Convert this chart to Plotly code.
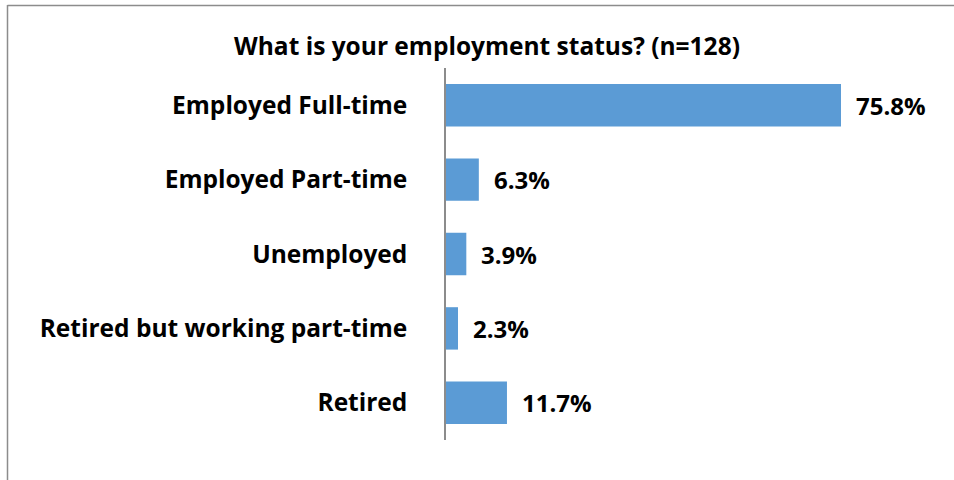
import plotly.graph_objects as go

categories = [
    "Employed Full-time",
    "Employed Part-time",
    "Unemployed",
    "Retired but working part-time",
    "Retired",
]
percentages = [75.8, 6.3, 3.9, 2.3, 11.7]
value_labels = ["75.8%", "6.3%", "3.9%", "2.3%", "11.7%"]

W, H = 954, 480
L, R, T, B = 446, 39, 68, 40
FONT = "Open Sans, sans-serif"
FS = 24.5

fig = go.Figure(
    go.Bar(
        x=percentages,
        y=categories,
        orientation="h",
        marker=dict(color="#5B9BD5", line=dict(width=0)),
        width=0.57,
        hoverinfo="skip",
    )
)

for cat, val, lab in zip(categories, percentages, value_labels):
    fig.add_annotation(
        x=val, y=cat, text=lab, showarrow=False,
        xanchor="left", yanchor="middle", xshift=13,
        font=dict(family=FONT, size=24, color="#000000", weight="bold"),
    )

# frame line around the chart area (left and top edges)
pw, ph = W - L - R, H - T - B
def px_x(p):
    return (p - L) / pw
def px_y(p):
    return 1 - (p - T) / ph
fig.add_shape(type="line", xref="paper", yref="paper",
              x0=px_x(7.5), x1=px_x(7.5), y0=px_y(5), y1=px_y(H + 5),
              line=dict(color="#8C8C8C", width=1.5))
fig.add_shape(type="line", xref="paper", yref="paper",
              x0=px_x(7.5), x1=px_x(W + 5), y0=px_y(5.5), y1=px_y(5.5),
              line=dict(color="#8C8C8C", width=1.5))

fig.update_layout(
    width=W, height=H,
    margin=dict(l=L, r=R, t=T, b=B),
    paper_bgcolor="white", plot_bgcolor="white",
    showlegend=False,
    title=dict(
        text="What is your employment status? (n=128)",
        x=487 / W, xref="container", xanchor="center",
        y=1 - 46 / H, yref="container", yanchor="middle",
        font=dict(family=FONT, size=FS, color="#000000", weight="bold"),
    ),
    xaxis=dict(range=[0, 90], visible=False, fixedrange=True),
    yaxis=dict(
        autorange="reversed",
        showline=True, linecolor="#8C8C8C", linewidth=1.5,
        showgrid=False, zeroline=False, ticks="",
        ticklabelstandoff=32,
        tickfont=dict(family=FONT, size=FS, color="#000000", weight="bold"),
        fixedrange=True,
    ),
)

fig.write_html("out.html")
